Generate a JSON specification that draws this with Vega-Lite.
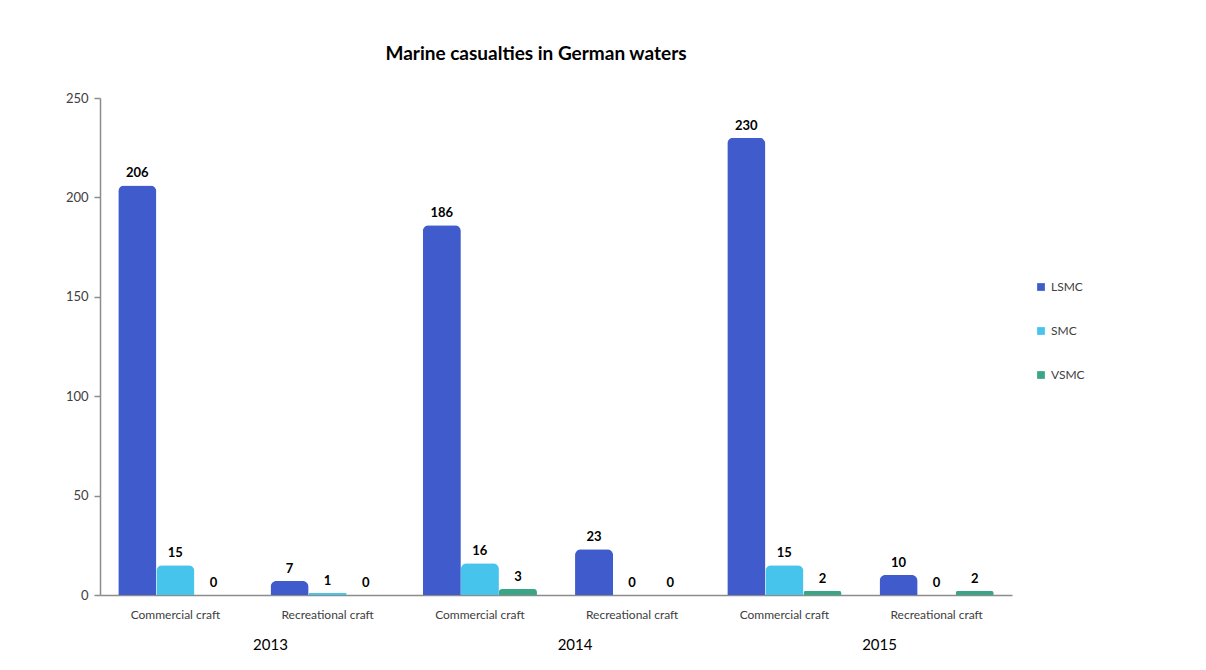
{
  "$schema": "https://vega.github.io/schema/vega-lite/v6.json",
  "autosize": "none",
  "width": 912,
  "height": 497,
  "padding": {"left": 100, "top": 98, "right": 194, "bottom": 75},
  "background": "white",
  "config": {
    "view": {"stroke": null},
    "font": "Lato",
    "text": {"font": "Lato"}
  },
  "title": {
    "text": "Marine casualties in German waters",
    "fontSize": 19,
    "fontWeight": "bold",
    "font": "Lato",
    "color": "#000000",
    "offset": 28,
    "dx": -20
  },
  "datasets": {
    "bars": [
      {"year": "2013", "group": "2013 Commercial craft", "series": "LSMC", "value": 206},
      {"year": "2013", "group": "2013 Commercial craft", "series": "SMC", "value": 15},
      {"year": "2013", "group": "2013 Commercial craft", "series": "VSMC", "value": 0},
      {"year": "2013", "group": "2013 Recreational craft", "series": "LSMC", "value": 7},
      {"year": "2013", "group": "2013 Recreational craft", "series": "SMC", "value": 1},
      {"year": "2013", "group": "2013 Recreational craft", "series": "VSMC", "value": 0},
      {"year": "2014", "group": "2014 Commercial craft", "series": "LSMC", "value": 186},
      {"year": "2014", "group": "2014 Commercial craft", "series": "SMC", "value": 16},
      {"year": "2014", "group": "2014 Commercial craft", "series": "VSMC", "value": 3},
      {"year": "2014", "group": "2014 Recreational craft", "series": "LSMC", "value": 23},
      {"year": "2014", "group": "2014 Recreational craft", "series": "SMC", "value": 0},
      {"year": "2014", "group": "2014 Recreational craft", "series": "VSMC", "value": 0},
      {"year": "2015", "group": "2015 Commercial craft", "series": "LSMC", "value": 230},
      {"year": "2015", "group": "2015 Commercial craft", "series": "SMC", "value": 15},
      {"year": "2015", "group": "2015 Commercial craft", "series": "VSMC", "value": 2},
      {"year": "2015", "group": "2015 Recreational craft", "series": "LSMC", "value": 10},
      {"year": "2015", "group": "2015 Recreational craft", "series": "SMC", "value": 0},
      {"year": "2015", "group": "2015 Recreational craft", "series": "VSMC", "value": 2}
    ],
    "years": [
      {"year": "2013", "at": "2013 Recreational craft"},
      {"year": "2014", "at": "2014 Recreational craft"},
      {"year": "2015", "at": "2015 Recreational craft"}
    ]
  },
  "layer": [
    {
      "data": {"name": "bars"},
      "mark": {"type": "bar", "cornerRadiusTopLeft": 6, "cornerRadiusTopRight": 6},
      "encoding": {
        "x": {
          "field": "group", "type": "nominal", "sort": null,
          "scale": {"paddingInner": 0.25, "paddingOuter": 0.12},
          "axis": {
            "title": null, "labelAngle": 0, "ticks": false,
            "labelExpr": "replace(datum.label, /^\\d{4} /, '')",
            "labelFontSize": 12, "labelColor": "#404040", "labelPadding": 14,
            "domainColor": "#8c8c8c", "domainWidth": 1.5, "labelFont": "Lato"
          }
        },
        "xOffset": {"field": "series", "type": "nominal", "sort": ["LSMC", "SMC", "VSMC"], "scale": {"paddingInner": 0}},
        "y": {
          "field": "value", "type": "quantitative",
          "scale": {"domain": [0, 250], "nice": false},
          "axis": {
            "title": null, "values": [0, 50, 100, 150, 200, 250], "grid": false,
            "labelFontSize": 13, "labelColor": "#404040", "labelPadding": 6,
            "domainColor": "#8c8c8c", "domainWidth": 1.5, "tickColor": "#8c8c8c",
            "tickSize": 6, "tickWidth": 1.5, "labelFont": "Lato"
          }
        },
        "color": {
          "field": "series", "type": "nominal",
          "scale": {"domain": ["LSMC", "SMC", "VSMC"], "range": ["#3F5BCC", "#47C4EC", "#3BA687"]},
          "legend": {
            "title": null, "orient": "none", "legendX": 935, "legendY": 183,
            "symbolType": "square", "symbolSize": 60, "rowPadding": 32,
            "labelFontSize": 12, "labelColor": "#404040", "labelFont": "Lato",
            "symbolStrokeWidth": 0
          }
        }
      }
    },
    {
      "data": {"name": "bars"},
      "mark": {"type": "text", "dy": -12, "fontWeight": "bold", "fontSize": 13, "color": "#000000", "font": "Lato"},
      "encoding": {
        "x": {"field": "group", "type": "nominal", "sort": null},
        "xOffset": {"field": "series", "type": "nominal", "sort": ["LSMC", "SMC", "VSMC"]},
        "y": {"field": "value", "type": "quantitative"},
        "text": {"field": "value", "type": "quantitative"}
      }
    },
    {
      "data": {"name": "years"},
      "mark": {"type": "text", "fontSize": 15, "color": "#000000", "font": "Lato", "dy": 50, "baseline": "middle"},
      "encoding": {
        "x": {"field": "at", "type": "nominal", "bandPosition": 0},
        "y": {"datum": 0},
        "text": {"field": "year", "type": "nominal"}
      }
    }
  ]
}
